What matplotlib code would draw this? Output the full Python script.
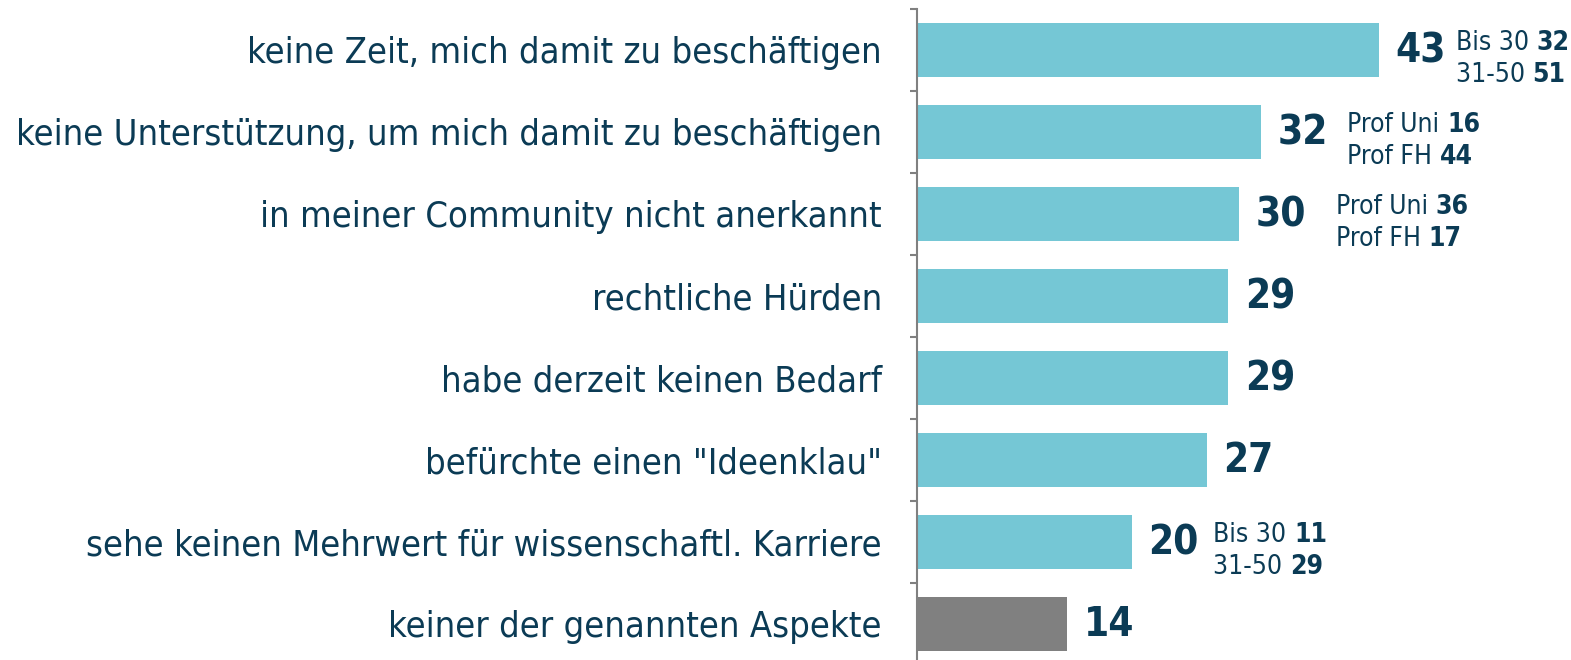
import numpy as np
import matplotlib
matplotlib.use("Agg")
import matplotlib.pyplot as plt

categories = ["keine Zeit, mich damit zu beschäftigen",
              "keine Unterstützung, um mich damit zu beschäftigen",
              "in meiner Community nicht anerkannt",
              "rechtliche Hürden",
              "habe derzeit keinen Bedarf",
              "befürchte einen \"Ideenklau\"",
              "sehe keinen Mehrwert für wissenschaftl. Karriere",
              "keiner der genannten Aspekte"]
values = [43, 32, 30, 29, 29, 27, 20, 14]
is_none = [False, False, False, False, False, False, False, True]
# subgroup notes: (row index, [(label, value), (label, value)])
notes = [(0, [("Bis 30", 32), ("31-50", 51)]),
         (1, [("Prof Uni", 16), ("Prof FH", 44)]),
         (2, [("Prof Uni", 36), ("Prof FH", 17)]),
         (6, [("Bis 30", 11), ("31-50", 29)])]

plt.rcParams["font.family"] = ["DejaVu Sans"]
plt.rcParams["font.stretch"] = "condensed"

TXT = "#0B3B55"; TEAL = "#75C7D5"; GREY = "#808080"
W, H = 1571, 660
X0 = 916.5
fig = plt.figure(figsize=(W/100, H/100), dpi=100)
ax = fig.add_axes([X0/W, 1-665/H, 1-X0/W, 656/H])

y = np.arange(len(values))
ax.barh(y, values, height=0.67, color=[GREY if n else TEAL for n in is_none])
ax.set_ylim(len(values)-0.5, -0.5)
ax.set_xlim(0, (W-X0)/10.75)

for s in ["top", "right", "bottom"]:
    ax.spines[s].set_visible(False)
ax.spines["left"].set_color(GREY); ax.spines["left"].set_linewidth(1.5)
ax.set_xticks([])
ax.set_yticks(y)
ax.set_yticklabels(categories, fontsize=26, color=TXT)
ax.tick_params(axis="y", which="major", length=0, pad=25)
ax.set_yticks(np.arange(-0.5, len(values)), minor=True)
ax.tick_params(axis="y", which="minor", length=5, width=1.5, color=GREY, direction="out")

for i, v in enumerate(values):
    ax.annotate(str(v), (v, i), xytext=(12, -1), textcoords="offset points",
                ha="left", va="center", fontsize=29, fontweight="bold", color=TXT)

note_dx = {0: 55.5, 1: 62.5, 2: 70, 6: 59}
for i, lines in notes:
    v = values[i]
    for k, (lab, num) in enumerate(lines):
        dy = 5 - 23*k
        t = ax.annotate(lab + " ", (v, i), xytext=(note_dx[i], dy), textcoords="offset points",
                        ha="left", va="center", fontsize=19, color=TXT)
        ax.annotate(str(num), (1, 0.5), xycoords=t, ha="left", va="center",
                    fontsize=19, fontweight="bold", color=TXT)

fig.savefig("out.png", dpi=100)
